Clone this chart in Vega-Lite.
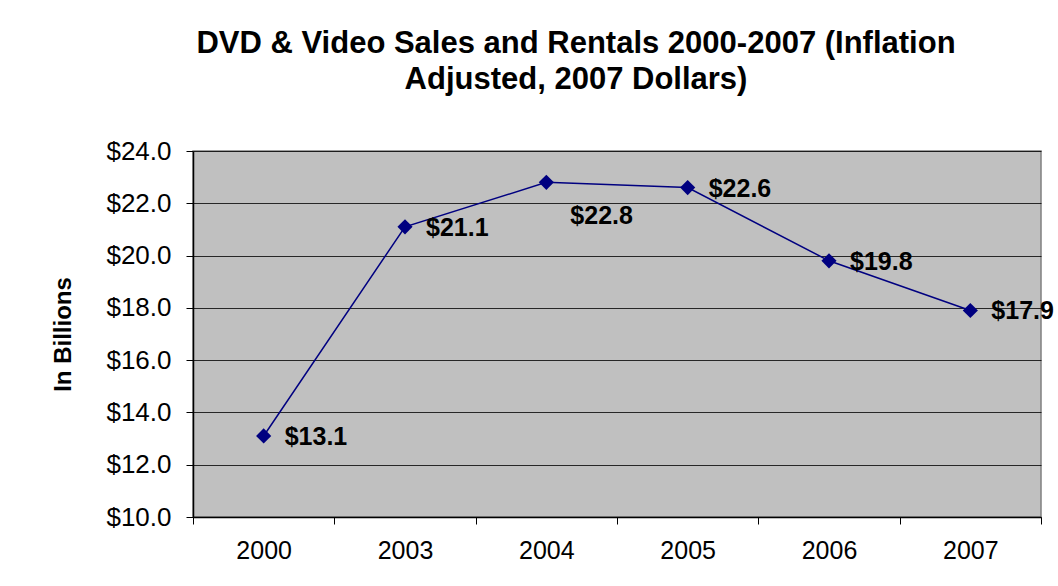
{
  "$schema": "https://vega.github.io/schema/vega-lite/v6.json",
  "autosize": {"type": "none"},
  "width": 848,
  "height": 366,
  "padding": {"left": 193, "top": 151, "right": 17, "bottom": 69},
  "background": "white",
  "config": {
    "font": "Liberation Sans",
    "view": {"fill": "#C0C0C0", "stroke": "#808080", "strokeWidth": 1.5}
  },
  "title": {
    "text": ["DVD & Video Sales and Rentals 2000-2007 (Inflation", "Adjusted, 2007 Dollars)"],
    "fontSize": 31,
    "fontWeight": "bold",
    "color": "#000000",
    "anchor": "middle",
    "frame": "group",
    "dx": -41,
    "lineHeight": 36,
    "offset": 42
  },
  "data": {
    "values": [
      {"year": "2000", "value": 13.1},
      {"year": "2003", "value": 21.1},
      {"year": "2004", "value": 22.8},
      {"year": "2005", "value": 22.6},
      {"year": "2006", "value": 19.8},
      {"year": "2007", "value": 17.9}
    ]
  },
  "encoding": {
    "x": {
      "field": "year",
      "type": "ordinal",
      "bandPosition": 0.5,
      "scale": {"type": "band", "paddingInner": 0, "paddingOuter": 0},
      "axis": {
        "title": null,
        "labelAngle": 0,
        "labelFontSize": 25,
        "labelColor": "#000000",
        "labelPadding": 14,
        "tickBand": "extent",
        "tickSize": 7,
        "tickColor": "#000000",
        "domainColor": "#000000",
        "domainWidth": 1.5,
        "grid": false
      }
    },
    "y": {
      "field": "value",
      "type": "quantitative",
      "scale": {"domain": [10, 24], "nice": false, "zero": false},
      "axis": {
        "title": "In Billions",
        "titleFontSize": 24,
        "titleFontWeight": "bold",
        "titleColor": "#000000",
        "titlePadding": 30,
        "values": [10, 12, 14, 16, 18, 20, 22, 24],
        "format": "$.1f",
        "labelFontSize": 26,
        "labelColor": "#000000",
        "labelPadding": 15,
        "tickSize": 7,
        "tickColor": "#000000",
        "domainColor": "#000000",
        "domainWidth": 1.5,
        "grid": true,
        "gridColor": "#000000",
        "gridWidth": 1,
        "gridOpacity": 0.8
      }
    }
  },
  "layer": [
    {"mark": {"type": "line", "color": "#000080", "strokeWidth": 1.5}},
    {"mark": {"type": "point", "shape": "diamond", "filled": true, "color": "#000080", "opacity": 1, "size": 230}},
    {
      "transform": [{"filter": "datum.year !== '2004'"}],
      "mark": {"type": "text", "align": "left", "baseline": "middle", "dx": 21, "dy": 1, "fontSize": 25, "fontWeight": "bold", "color": "#000000"},
      "encoding": {"text": {"field": "value", "type": "quantitative", "format": "$.1f"}}
    },
    {
      "transform": [{"filter": "datum.year === '2004'"}],
      "mark": {"type": "text", "align": "left", "baseline": "middle", "dx": 24, "dy": 34, "fontSize": 25, "fontWeight": "bold", "color": "#000000"},
      "encoding": {"text": {"field": "value", "type": "quantitative", "format": "$.1f"}}
    }
  ]
}
